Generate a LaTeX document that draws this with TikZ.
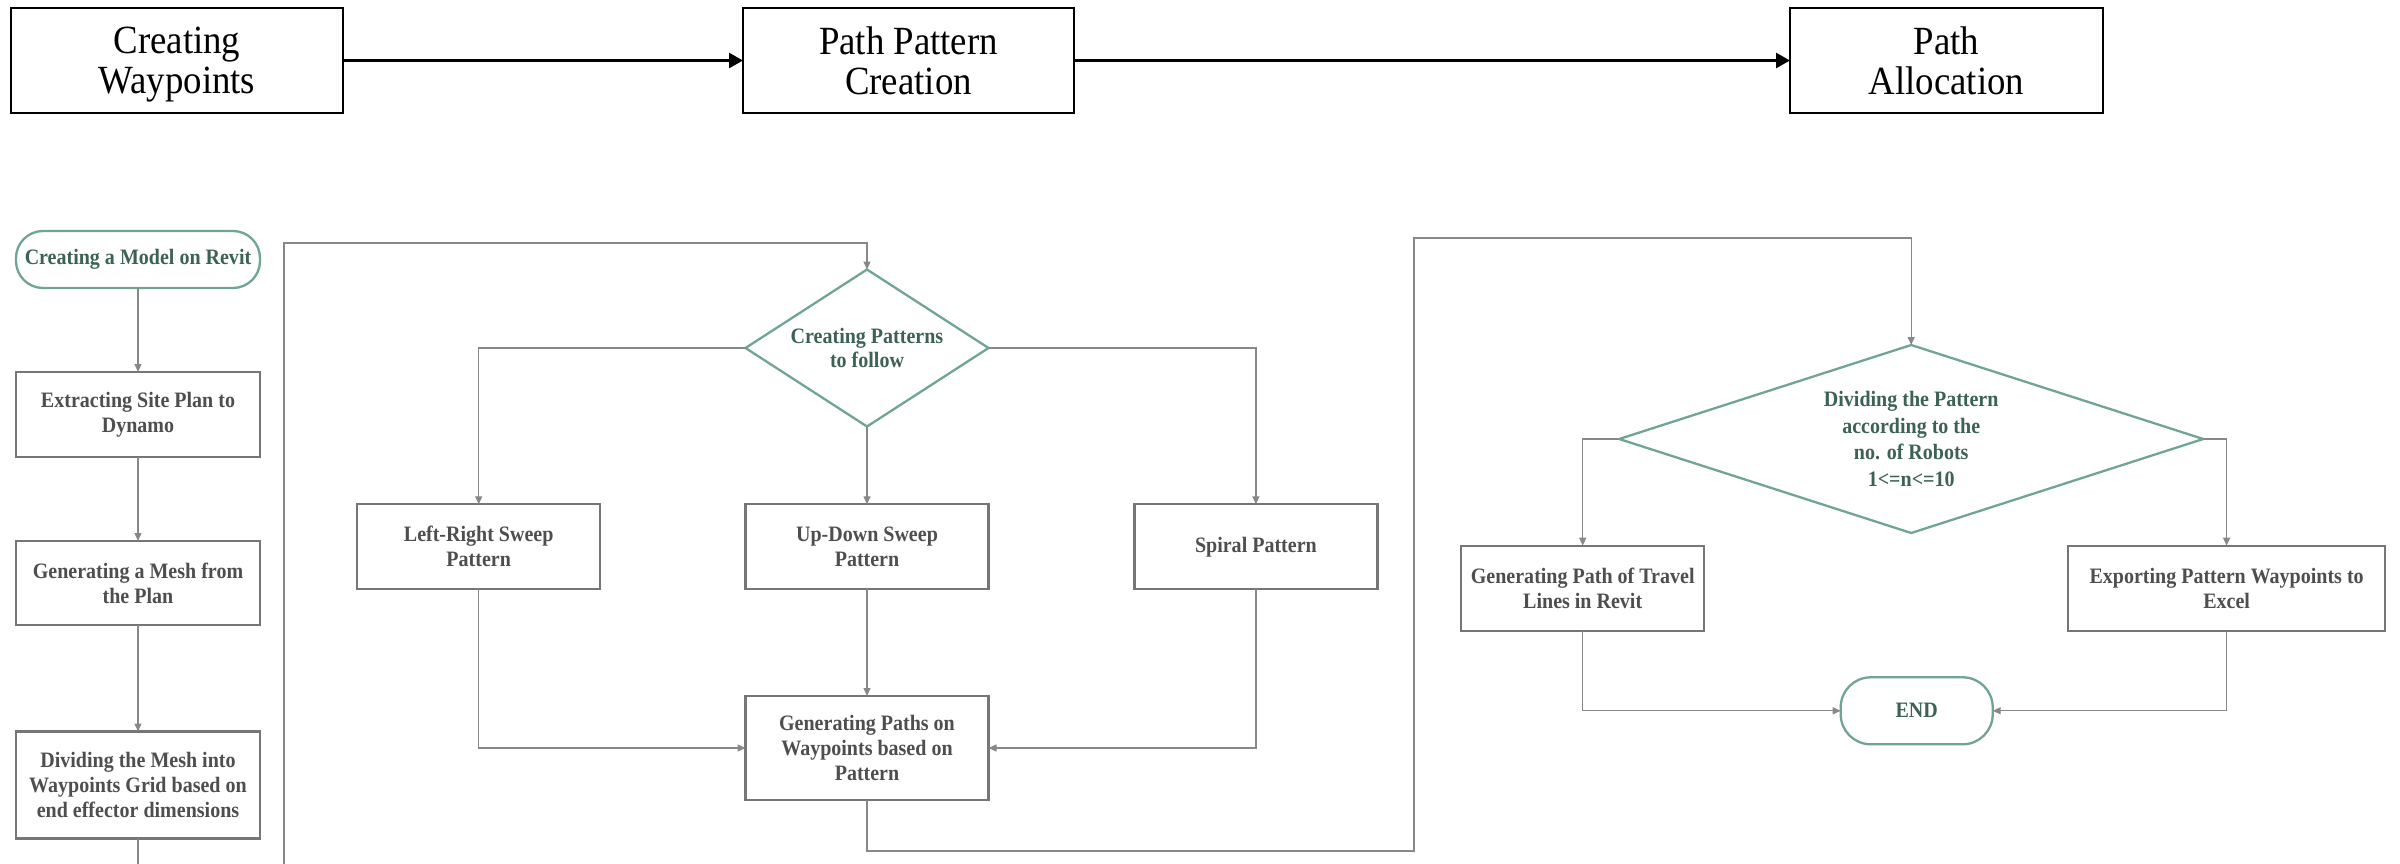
\documentclass[tikz,border=0pt]{standalone}
\usepackage{fontspec}
\setmainfont{Liberation Serif}
\newfontfamily\headfont{Liberation Serif}[FakeStretch=0.92]
\newfontfamily\stepfont{Liberation Serif}[FakeStretch=0.91]
\usetikzlibrary{shapes.geometric,arrows.meta}

\definecolor{tealline}{RGB}{112,164,150}
\definecolor{tealtext}{RGB}{60,98,86}
\definecolor{boxline}{RGB}{118,118,118}
\definecolor{boxtext}{RGB}{78,78,78}
\definecolor{connline}{RGB}{136,136,136}

% fixed line pitch regardless of glyph heights
\newcommand\fixedpitch{\lineskiplimit-30pt\relax}
\newcommand\headtext{\headfont\fontsize{40}{40}\selectfont\fixedpitch}
\newcommand\steptext{\stepfont\bfseries\fontsize{22}{25}\selectfont\fixedpitch}
\newcommand\decisiontextA{\stepfont\bfseries\fontsize{22}{24.7}\selectfont\fixedpitch}
\newcommand\decisiontextB{\stepfont\bfseries\fontsize{22}{26.7}\selectfont\fixedpitch}

\tikzset{
  headbox/.style={draw=black, line width=2pt, inner sep=0pt, outer sep=0pt,
    align=center, text depth=0pt, font=\headtext},
  headarrow/.style={draw=black, line width=2.7pt, -{Triangle[length=14pt,width=15pt]}},
  stepbox/.style={draw=boxline, line width=2.3pt, inner sep=0pt, outer sep=0pt,
    align=center, text=boxtext, font=\steptext},
  termbox/.style={draw=tealline, line width=2.3pt, inner sep=0pt, outer sep=0pt,
    align=center, text=tealtext, font=\steptext},
  decision/.style={diamond, draw=tealline, line width=2.3pt, inner sep=0pt, outer sep=0pt,
    align=center, text=tealtext},
  conn/.style={draw=connline, line width=1.3pt, -{Triangle[length=8pt,width=7pt]}},
}

\begin{document}
\begin{tikzpicture}[x=1pt,y=-1pt]
\clip (0,0) rectangle (2400,864);
\fill[white] (0,0) rectangle (2400,864);

% ---- overview of the three stages ----
\node[headbox, minimum width=332pt, minimum height=105pt] (tA) at (177,60.5) {Creating\\Waypoints};
\node[headbox, minimum width=331pt, minimum height=105pt] (tB) at (908.5,60.5) {Path Pattern\\Creation};
\node[headbox, minimum width=313pt, minimum height=105pt] (tC) at (1946.5,60.5) {Path\\Allocation};
\draw[headarrow] (tA.east) -- (tB.west);
\draw[headarrow] (tB.east) -- (tC.west);

% ---- stage 1: waypoints ----
\node[termbox, rounded corners=27pt, minimum width=244pt, minimum height=57pt] (s0) at (138,259.5) {Creating a Model on Revit};
\node[stepbox, minimum width=244pt, minimum height=85pt] (s1) at (138,414.5) {Extracting Site Plan to\\Dynamo};
\node[stepbox, minimum width=244pt, minimum height=84pt] (s2) at (138,583) {Generating a Mesh from\\the Plan};
\node[stepbox, minimum width=244pt, minimum height=107pt] (s3) at (138,785) {Dividing the Mesh into\\Waypoints Grid based on\\end effector dimensions};

% ---- stage 2: patterns ----
\node[decision, shape aspect=1.55, minimum width=243pt, minimum height=157pt,
  font=\decisiontextA] (d1) at (867,348) {Creating Patterns\\to follow};
\node[stepbox, minimum width=243pt, minimum height=85pt] (p1) at (478.7,546.8) {Left-Right Sweep\\Pattern};
\node[stepbox, minimum width=243pt, minimum height=85pt] (p2) at (867,546.8) {Up-Down Sweep\\Pattern};
\node[stepbox, minimum width=243pt, minimum height=85pt] (p3) at (1255.9,546.8) {Spiral Pattern};
\node[stepbox, minimum width=243pt, minimum height=104pt] (g) at (867,748) {Generating Paths on\\Waypoints based on\\Pattern};

% ---- stage 3: allocation ----
\node[decision, shape aspect=3, minimum width=584pt, minimum height=188pt,
  font=\decisiontextB] (d2) at (1911.2,439) {Dividing the Pattern\\according to the\\no. of Robots\\1<=n<=10};
\node[stepbox, minimum width=243pt, minimum height=85pt] (r1) at (1582.7,588.2) {Generating Path of Travel\\Lines in Revit};
\node[stepbox, minimum width=317pt, minimum height=85pt] (r2) at (2226.6,588.2) {Exporting Pattern Waypoints to\\Excel};
\node[termbox, rounded corners=30pt, minimum width=152pt, minimum height=67pt] (e) at (1916.7,710.8) {END};

% ---- routing points ----
\coordinate (lp1) at (138,880);
\coordinate (lp2) at (284,243);
\coordinate (lq1) at (1414,851);
\coordinate (lq2) at (1414,238);

% ---- connectors ----
\draw[conn] (s0.south) -- (s1.north);
\draw[conn] (s1.south) -- (s2.north);
\draw[conn] (s2.south) -- (s3.north);
\draw[conn] (s3.south) -- (lp1) -| (lp2) -| (d1.north);

\draw[conn] (d1.west) -| (p1.north);
\draw[conn] (d1.south) -- (p2.north);
\draw[conn] (d1.east) -| (p3.north);
\draw[conn] (p1.south) |- (g.west);
\draw[conn] (p2.south) -- (g.north);
\draw[conn] (p3.south) |- (g.east);

\draw[conn] (g.south) |- (lq1) -- (lq2) -| (d2.north);
\draw[conn] (d2.west) -| (r1.north);
\draw[conn] (d2.east) -| (r2.north);
\draw[conn] (r1.south) |- (e.west);
\draw[conn] (r2.south) |- (e.east);
\end{tikzpicture}
\end{document}
